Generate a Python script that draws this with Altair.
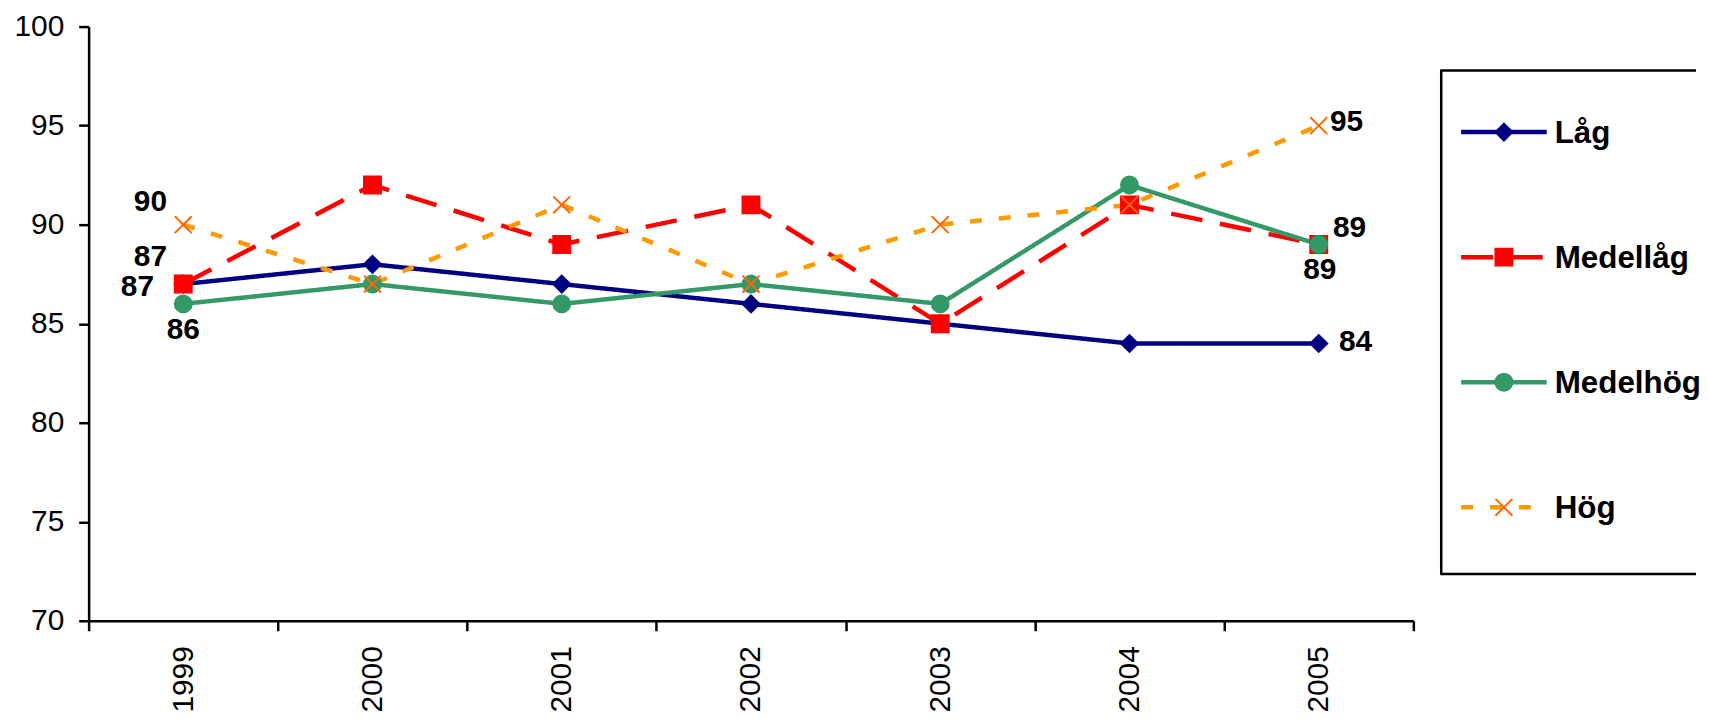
import altair as alt
import pandas as pd

years = ["1999", "2000", "2001", "2002", "2003", "2004", "2005"]
series = ["Låg", "Medellåg", "Medelhög", "Hög"]
lag = [87, 88, 87, 86, 85, 84, 84]
medellag = [87, 92, 89, 91, 85, 91, 89]
medelhog = [86, 87, 86, 87, 86, 92, 89]
hog = [90, 87, 91, 87, 90, 91, 95]
y_ticks = [70, 75, 80, 85, 90, 95, 100]

line_colors = ["#000080", "#FF0000", "#339966", "#FF9900"]
marker_colors = ["#000080", "#FF0000", "#339966", "#FF6600"]
dashes = [[1, 0], [32, 18], [1, 0], [12, 17]]
shapes = ["diamond", "square", "circle", "M-1,-1L1,1M-1,1L1,-1"]

FONT = "Liberation Sans"

rows = []
for name, vals in zip(series, [lag, medellag, medelhog, hog]):
    for yr, v in zip(years, vals):
        rows.append({"series": name, "year": yr, "value": v})
df = pd.DataFrame(rows)
legend_df = pd.DataFrame({"series": series})

color_scale = alt.Scale(domain=series, range=line_colors)
dash_scale = alt.Scale(domain=series, range=dashes)
marker_scale = alt.Scale(domain=series, range=marker_colors)
shape_scale = alt.Scale(domain=series, range=shapes)

x_enc = alt.X(
    "year:O",
    scale=alt.Scale(type="band", domain=years, paddingInner=0, paddingOuter=0),
    bandPosition=0.5,
    axis=alt.Axis(title=None, labelAngle=270, tickBand="extent", labelPadding=15),
)
y_enc = alt.Y(
    "value:Q",
    scale=alt.Scale(domain=[70, 100], nice=False, zero=False),
    axis=alt.Axis(title=None, values=y_ticks, labelPadding=15),
)

lines = alt.Chart(df).mark_line(strokeWidth=4.5, strokeJoin="round").encode(
    x=x_enc,
    y=y_enc,
    color=alt.Color("series:N", scale=color_scale, legend=None),
    strokeDash=alt.StrokeDash("series:N", scale=dash_scale, legend=None),
)

points = alt.Chart(df).mark_point(filled=True, strokeWidth=2, size=289, opacity=1).encode(
    x=x_enc,
    y=y_enc,
    fill=alt.Fill("series:N", scale=marker_scale, legend=None),
    stroke=alt.Stroke("series:N", scale=marker_scale, legend=None),
    shape=alt.Shape("series:N", scale=shape_scale, legend=None),
)

label_specs = [
    ("Hög", "1999", -33, -23),
    ("Medellåg", "1999", -33, -27),
    ("Låg", "1999", -46, 3),
    ("Medelhög", "1999", 0, 26),
    ("Hög", "2005", 28, -4),
    ("Medellåg", "2005", 31, -16),
    ("Medelhög", "2005", 1, 26),
    ("Låg", "2005", 37, -1),
]
labels = []
for s, yr, dx, dy in label_specs:
    labels.append(
        alt.Chart(df)
        .transform_filter((alt.datum.series == s) & (alt.datum.year == yr))
        .mark_text(
            dx=dx, dy=dy, align="center", baseline="middle",
            font=FONT, fontSize=30, fontWeight="bold", color="black",
        )
        .encode(x=x_enc, y=y_enc, text="value:Q")
    )

main = alt.layer(lines, points, *labels)

legend_y = alt.Y(
    "series:N",
    scale=alt.Scale(type="point", domain=series, range=[106, 483], padding=0),
    axis=None,
)

frame_df = pd.DataFrame({"frame": [0]})
box_left = alt.Chart(frame_df).mark_rule(color="black", strokeWidth=2.5).encode(
    x=alt.value(1359), y=alt.value(44), y2=alt.value(550)
)
box_top = alt.Chart(frame_df).mark_rule(color="black", strokeWidth=2.5).encode(
    x=alt.value(1358), x2=alt.value(1615), y=alt.value(44)
)
box_bottom = alt.Chart(frame_df).mark_rule(color="black", strokeWidth=2.5).encode(
    x=alt.value(1358), x2=alt.value(1615), y=alt.value(550)
)

leg_lines = alt.Chart(legend_df).mark_rule(strokeWidth=4.5).encode(
    x=alt.value(1379),
    x2=alt.value(1465),
    y=legend_y,
    color=alt.Color("series:N", scale=color_scale, legend=None),
    strokeDash=alt.StrokeDash("series:N", scale=dash_scale, legend=None),
)

leg_points = alt.Chart(legend_df).mark_point(filled=True, strokeWidth=2, size=289, opacity=1).encode(
    x=alt.value(1422),
    y=legend_y,
    fill=alt.Fill("series:N", scale=marker_scale, legend=None),
    stroke=alt.Stroke("series:N", scale=marker_scale, legend=None),
    shape=alt.Shape("series:N", scale=shape_scale, legend=None),
)

leg_text = alt.Chart(legend_df).mark_text(
    align="left", baseline="middle", dy=2,
    font=FONT, fontSize=31.5, fontWeight="bold", color="black",
).encode(x=alt.value(1473), y=legend_y, text="series:N")

legend = alt.layer(box_left, box_top, box_bottom, leg_lines, leg_points, leg_text)

chart = (
    alt.layer(main, legend)
    .resolve_scale(y="independent")
    .properties(
        width=1331,
        height=597,
        padding={"left": 81, "top": 17, "right": 289, "bottom": 97},
        autosize=alt.AutoSizeParams(type="none"),
        background="white",
    )
    .configure_view(stroke=None)
    .configure_axis(
        grid=False,
        labelFont=FONT,
        labelFontSize=30,
        labelColor="black",
        domainColor="black",
        domainWidth=2.5,
        tickColor="black",
        tickWidth=2.5,
        tickSize=10,
    )
)

chart.save("out.html", embed_options={"renderer": "svg", "actions": False})
